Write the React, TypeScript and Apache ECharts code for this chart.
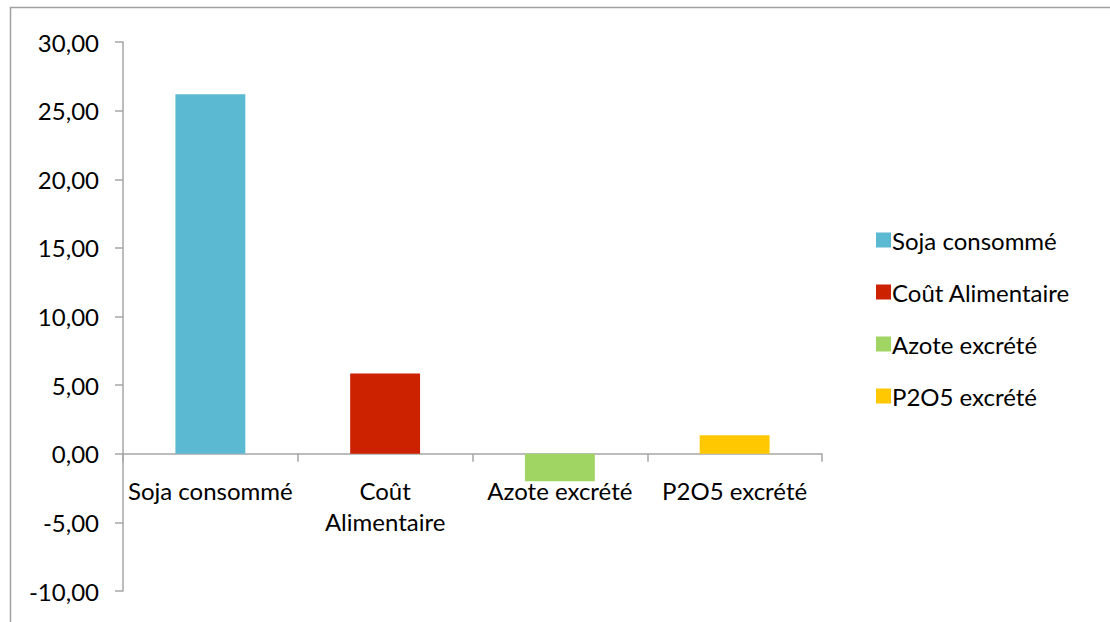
import React, { useEffect, useRef } from "react";
import * as echarts from "echarts";

const categories = ["Soja consommé", "Coût Alimentaire", "Azote excrété", "P2O5 excrété"];
const categoryLabels = ["Soja consommé", "Coût\nAlimentaire", "Azote excrété", "P2O5 excrété"];
const values = [26.2, 5.85, -2.0, 1.35];
const colors = ["#5BB9D1", "#CC2200", "#A0D564", "#FFC800"];
const yMin = -10;
const yMax = 30;
const yInterval = 5;

export default function App() {
  const ref = useRef<HTMLDivElement>(null);
  useEffect(() => {
    document.body.style.margin = "0";
    if (!ref.current) return;
    const chart = echarts.init(ref.current, undefined, { renderer: "svg" });
    const font = "Lato, 'Open Sans', sans-serif";
    const gridTop = 42;
    const gridBottom = 31;
    const gridH = 622 - gridTop - gridBottom;
    const zeroOffset = -(gridH * (0 - yMin)) / (yMax - yMin);
    chart.setOption({
      animation: false,
      textStyle: { fontFamily: font },
      graphic: [
        {
          type: "rect",
          shape: { x: 10.5, y: 7.5, width: 1200, height: 700 },
          style: { fill: "none", stroke: "#A0A0A0", lineWidth: 1.5 },
          silent: true,
        },
      ],
      legend: {
        orient: "vertical",
        left: 871,
        top: 223,
        itemWidth: 15,
        itemHeight: 15,
        itemGap: 28,
        icon: "rect",
        textStyle: { fontSize: 24, color: "#000", fontFamily: font, padding: [0, 0, 0, -4] },
        data: categories,
      },
      grid: { left: 123, right: 288, top: gridTop, bottom: gridBottom, outerBoundsMode: "none", containLabel: false },
      xAxis: {
        type: "category",
        data: categoryLabels,
        offset: zeroOffset,
        axisLine: { onZero: false, lineStyle: { color: "#A6A6A6", width: 1.5 } },
        axisTick: { show: true, length: 8, alignWithLabel: false, lineStyle: { color: "#A6A6A6", width: 1.5 } },
        axisLabel: { fontSize: 24, color: "#000", margin: 21, lineHeight: 31, fontFamily: font, interval: 0 },
        splitLine: { show: false },
      },
      yAxis: {
        type: "value",
        min: yMin,
        max: yMax,
        interval: yInterval,
        axisLine: { show: true, lineStyle: { color: "#A6A6A6", width: 1.5 } },
        axisTick: { show: true, length: 8, lineStyle: { color: "#A6A6A6", width: 1.5 } },
        axisLabel: {
          fontSize: 24,
          color: "#000",
          margin: 24,
          fontFamily: font,
          formatter: (v: number) => v.toFixed(2).replace(".", ","),
        },
        splitLine: { show: false },
      },
      series: categories.map((name, i) => ({
        name,
        type: "bar",
        stack: "all",
        barWidth: "40%",
        itemStyle: { color: colors[i] },
        data: values.map((v, j) => (j === i ? v : "-")),
      })),
    });
    return () => chart.dispose();
  }, []);
  return <div ref={ref} style={{ width: 1110, height: 622 }} />;
}
